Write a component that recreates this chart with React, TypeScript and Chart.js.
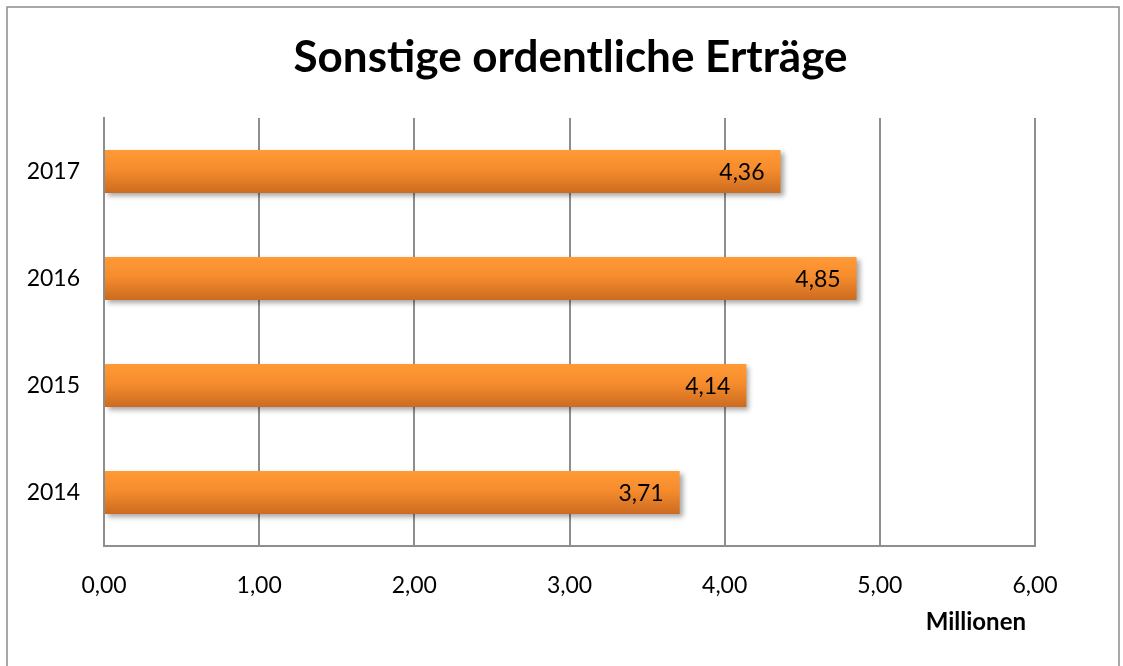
import React, { useEffect, useRef } from "react";
import { Chart, registerables } from "chart.js";

Chart.register(...registerables);

const categories = ["2014", "2015", "2016", "2017"];
const values = [3.71, 4.14, 4.85, 4.36];
const xTicks = [0, 1, 2, 3, 4, 5, 6];
const titleText = "Sonstige ordentliche Erträge";
const axisTitleText = "Millionen";

const FONT = "Lato, 'Open Sans', sans-serif";

const fmt = (v: number) => v.toFixed(2).replace(".", ",");

export default function App() {
  const ref = useRef<HTMLCanvasElement | null>(null);

  useEffect(() => {
    if (!ref.current) return;
    const decor = {
      id: "decor",
      beforeDraw(chart: any) {
        const ctx = chart.ctx;
        ctx.save();
        ctx.fillStyle = "#ffffff";
        ctx.fillRect(0, 0, chart.width, chart.height);
        ctx.strokeStyle = "#8c8c8c";
        ctx.lineWidth = 1.5;
        ctx.strokeRect(7, 7, 1112, 700);
        ctx.restore();
      },
      beforeDatasetsDraw(chart: any) {
        const ctx = chart.ctx;
        const meta = chart.getDatasetMeta(0);
        meta.data.forEach((el: any) => {
          const top = el.y - el.height / 2;
          const g = ctx.createLinearGradient(0, top, 0, top + el.height);
          g.addColorStop(0, "#FF9A35");
          g.addColorStop(0.45, "#F68C2D");
          g.addColorStop(1, "#CC6B20");
          el.options = { ...el.options, backgroundColor: g };
        });
        ctx.save();
        ctx.shadowColor = "rgba(0,0,0,0.35)";
        ctx.shadowBlur = 5;
        ctx.shadowOffsetX = 3;
        ctx.shadowOffsetY = 3;
      },
      afterDatasetsDraw(chart: any) {
        const ctx = chart.ctx;
        ctx.restore();
        const meta = chart.getDatasetMeta(0);
        ctx.save();
        ctx.fillStyle = "#000000";
        ctx.font = `23px ${FONT}`;
        ctx.textAlign = "right";
        ctx.textBaseline = "middle";
        meta.data.forEach((el: any, i: number) => {
          ctx.fillText(fmt(values[i]), el.x - 16, el.y + 1);
        });
        ctx.restore();
      },
      afterDraw(chart: any) {
        const ctx = chart.ctx;
        const area = chart.chartArea;
        ctx.save();
        ctx.fillStyle = "#000000";
        ctx.textAlign = "center";
        ctx.textBaseline = "alphabetic";
        ctx.font = `bold 44px ${FONT}`;
        ctx.fillText(titleText, (area.left + area.right) / 2 + 1, 72);
        ctx.textAlign = "right";
        ctx.font = `bold 24px ${FONT}`;
        ctx.fillText(axisTitleText, area.right - 9, 630);
        ctx.restore();
      },
    };

    const chart = new Chart(ref.current, {
      type: "bar",
      data: {
        labels: categories,
        datasets: [
          {
            data: values,
            backgroundColor: "#F68C2D",
            borderWidth: 0,
            barPercentage: 0.4,
            categoryPercentage: 1,
          },
        ],
      },
      options: {
        indexAxis: "y",
        animation: false,
        responsive: false,
        devicePixelRatio: 1,
        layout: { padding: { top: 118, left: 8, right: 88, bottom: 0 } },
        plugins: {
          legend: { display: false },
          title: { display: false },
          tooltip: { enabled: false },
        },
        scales: {
          x: {
            type: "linear",
            min: 0,
            max: 6,
            afterBuildTicks(scale: any) {
              scale.ticks = xTicks.map((v) => ({ value: v }));
            },
            afterFit(scale: any) {
              scale.height = 120;
            },
            grid: { color: "#8e8e8e", lineWidth: 2, drawTicks: false },
            border: { display: true, color: "#8e8e8e", width: 2 },
            ticks: {
              padding: 26,
              color: "#000000",
              font: { family: FONT, size: 23 },
              callback: (v: any) => fmt(Number(v)),
              maxRotation: 0,
            },
          },
          y: {
            reverse: true,
            afterFit(scale: any) {
              scale.width = 96;
            },
            grid: { display: false, drawTicks: false },
            border: { display: true, color: "#8e8e8e", width: 2 },
            ticks: {
              padding: 24,
              color: "#000000",
              font: { family: FONT, size: 23 },
            },
          },
        },
      },
      plugins: [decor],
    });
    return () => chart.destroy();
  }, []);

  return (
    <div style={{ position: "fixed", left: 0, top: 0, width: 1123, height: 666 }}>
      <canvas ref={ref} width={1123} height={666} />
    </div>
  );
}
